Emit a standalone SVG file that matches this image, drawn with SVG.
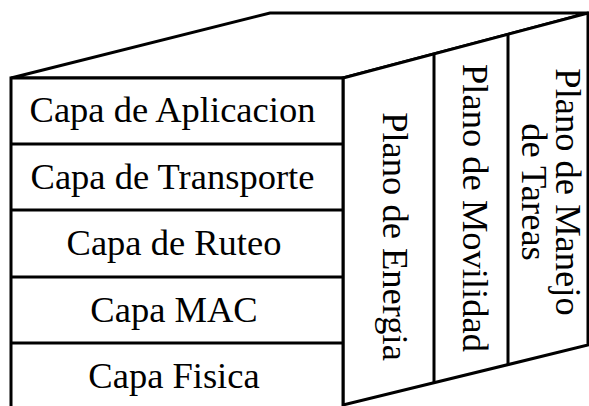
<svg xmlns="http://www.w3.org/2000/svg" width="589" height="406" viewBox="0 0 589 406">
<style>
.ln{fill:none;stroke:#000;stroke-width:3;stroke-linejoin:miter;stroke-linecap:butt}
.fc{fill:#fff;stroke:#000;stroke-width:3}
.t{font-family:"Liberation Serif","Times New Roman",serif;font-size:36.5px;fill:#000;text-anchor:middle}
</style>
<rect width="589" height="406" fill="#fff"/>
<g id="faces">
<polygon class="fc" points="11,78 270,13 588,13 343,78"/>
<polygon class="fc" points="343,78 588,13 588,345 343,405"/>
<rect class="fc" x="11" y="78" width="332" height="345"/>
</g>
<g id="capa-aplicacion"><text class="t" x="172.5" y="122">Capa de Aplicacion</text></g>
<g id="capa-transporte"><line class="ln" x1="11" y1="144" x2="343" y2="144"/><text class="t" x="172.5" y="189">Capa de Transporte</text></g>
<g id="capa-ruteo"><line class="ln" x1="11" y1="210" x2="343" y2="210"/><text class="t" x="174" y="255">Capa de Ruteo</text></g>
<g id="capa-mac"><line class="ln" x1="11" y1="277" x2="343" y2="277"/><text class="t" x="174" y="322">Capa MAC</text></g>
<g id="capa-fisica"><line class="ln" x1="11" y1="343" x2="343" y2="343"/><text class="t" x="174" y="388">Capa Fisica</text></g>
<g id="plano-energia"><text class="t" transform="translate(383,236.5) rotate(90)">Plano de Energia</text></g>
<g id="plano-movilidad"><line class="ln" x1="434" y1="54" x2="434" y2="383"/><text class="t" transform="translate(463,208) rotate(90)">Plano de Movilidad</text></g>
<g id="plano-tareas"><line class="ln" x1="508" y1="34" x2="508" y2="365"/><text class="t" transform="translate(556,192) rotate(90)">Plano de Manejo</text><text class="t" transform="translate(522,192) rotate(90)">de Tareas</text></g>
<g id="connectors"></g>
</svg>
